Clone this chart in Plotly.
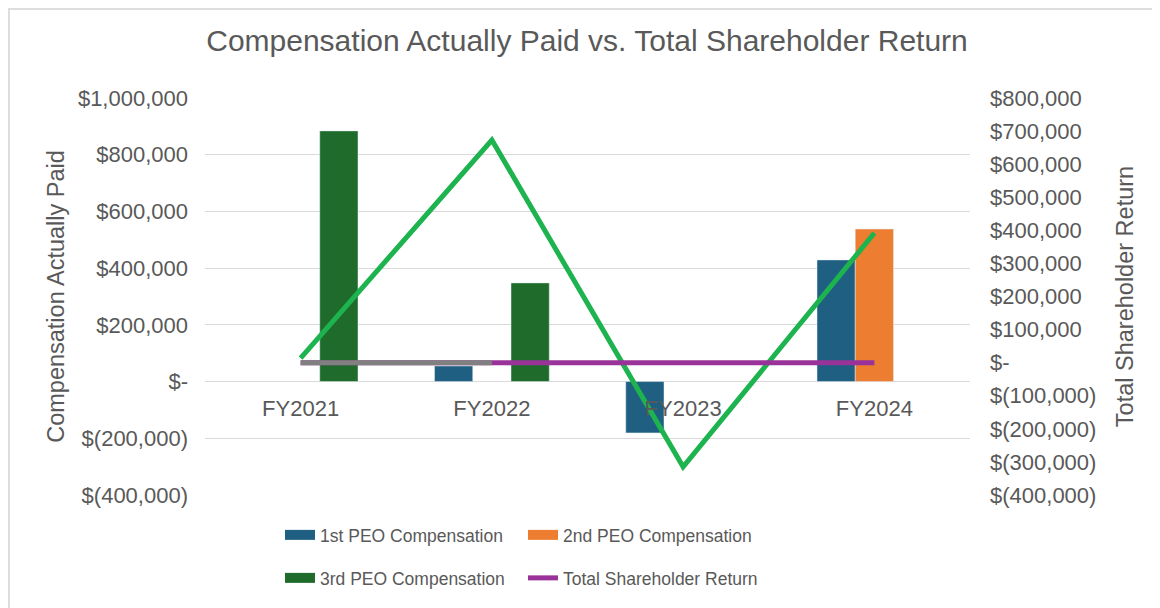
import plotly.graph_objects as go

# ---- data ----
categories = ["FY2021", "FY2022", "FY2023", "FY2024"]
peo1_comp = [None, 55000, -181000, 429000]
peo2_comp = [None, None, None, 538000]
peo3_comp = [884000, 348000, None, None]
green_series = [14000, 673000, -315000, 392000]
tsr_values = [100, 100, 100, 100]
gray_series = [100, 100, None, None]

left_tickvals = [-400000, -200000, 0, 200000, 400000, 600000, 800000, 1000000]
left_ticktext = ["$(400,000)", "$(200,000)", "$-", "$200,000", "$400,000",
                 "$600,000", "$800,000", "$1,000,000"]
right_tickvals = [-400000, -300000, -200000, -100000, 0, 100000, 200000, 300000,
                  400000, 500000, 600000, 700000, 800000]
right_ticktext = ["$(400,000)", "$(300,000)", "$(200,000)", "$(100,000)", "$-",
                  "$100,000", "$200,000", "$300,000", "$400,000", "$500,000",
                  "$600,000", "$700,000", "$800,000"]

# ---- styles ----
C_BLUE = "#1F5F82"
C_ORANGE = "#ED7D31"
C_DKGREEN = "#1E6B2C"
C_GREEN = "#1DB34E"
C_PURPLE = "#993399"
C_GRAY = "#808080"
TXT = "#595959"
FONT = "Liberation Sans, Arial, sans-serif"

W, H = 1160, 608
ML, MT = 197, 90
PW, PH = 765, 397

fig = go.Figure()

for name, vals, col, grp in [
    ("1st PEO Compensation", peo1_comp, C_BLUE, "p1"),
    ("2nd PEO Compensation", peo2_comp, C_ORANGE, "p2"),
    ("3rd PEO Compensation", peo3_comp, C_DKGREEN, "p3"),
]:
    fig.add_trace(go.Bar(x=categories, y=vals, name=name, marker_color=col,
                         legendgroup=grp, showlegend=False, yaxis="y"))

# legend swatches (wide rectangles like the original)
for name, col, grp, lg in [
    ("1st PEO Compensation", C_BLUE, "p1", "legend"),
    ("2nd PEO Compensation", C_ORANGE, "p2", "legend"),
    ("3rd PEO Compensation", C_DKGREEN, "p3", "legend2"),
]:
    fig.add_trace(go.Scatter(x=[None], y=[None], mode="lines", name=name,
                             line=dict(color=col, width=14), legendgroup=grp,
                             legend=lg, yaxis="y"))

fig.add_trace(go.Scatter(x=categories, y=green_series, mode="lines",
                         line=dict(color=C_GREEN, width=5), showlegend=False,
                         name="Series", yaxis="y2"))
fig.add_trace(go.Scatter(x=categories, y=tsr_values, mode="lines",
                         line=dict(color=C_PURPLE, width=5),
                         name="Total Shareholder Return", legend="legend2",
                         yaxis="y2"))
fig.add_trace(go.Scatter(x=categories, y=gray_series, mode="lines",
                         line=dict(color=C_GRAY, width=5), showlegend=False,
                         name="Series 2", yaxis="y2"))

legend_common = dict(orientation="h", xref="container", yref="container",
                     xanchor="left", yanchor="middle", entrywidth=198,
                     entrywidthmode="pixels", traceorder="normal",
                     font=dict(family=FONT, size=17.5, color=TXT),
                     bgcolor="rgba(0,0,0,0)")

fig.update_layout(
    width=W, height=H,
    paper_bgcolor="white", plot_bgcolor="white",
    margin=dict(l=ML, r=W - ML - PW, t=MT, b=H - MT - PH, autoexpand=False),
    barmode="group", bargap=0.4, bargroupgap=0,
    font=dict(family=FONT, color=TXT),
    title=dict(text="Compensation Actually Paid vs. Total Shareholder Return",
               x=579 / W, y=1 - 32 / H, xanchor="center", yanchor="middle",
               xref="container", yref="container",
               font=dict(family=FONT, size=30, color=TXT)),
    xaxis=dict(type="category", showgrid=False, showline=False, ticks="",
               zeroline=False, anchor="free", position=0.2846,
               ticklabelstandoff=11,
               tickfont=dict(family=FONT, size=22, color=TXT)),
    yaxis=dict(range=[-400000, 1000000], tickvals=left_tickvals,
               ticktext=left_ticktext, showgrid=True, gridcolor="#D9D9D9",
               gridwidth=1, zeroline=False, showline=False, ticks="",
               ticklabelstandoff=16,
               tickfont=dict(family=FONT, size=22, color=TXT),
               title=dict(text="Compensation Actually Paid", standoff=6,
                          font=dict(family=FONT, size=23.5, color=TXT))),
    yaxis2=dict(range=[-400000, 800000], tickvals=right_tickvals,
                ticktext=right_ticktext, overlaying="y", side="right",
                showgrid=False, zeroline=False, showline=False, ticks="",
                ticklabelstandoff=19,
                tickfont=dict(family=FONT, size=22, color=TXT),
                title=dict(text="Total Shareholder Return", standoff=21,
                           font=dict(family=FONT, size=23.5, color=TXT))),
    legend=dict(x=272 / W, y=1 - 527 / H, **legend_common),
    legend2=dict(x=272 / W, y=1 - 570 / H, **legend_common),
    showlegend=True,
    shapes=[dict(type="rect", xref="paper", yref="paper",
                 x0=(1 - ML) / PW, x1=1.4, y0=-0.5, y1=1 + (MT - 1) / PH,
                 line=dict(color="#DDDDDD", width=2), fillcolor="rgba(0,0,0,0)",
                 layer="below")],
)

fig.write_html("out.html")
